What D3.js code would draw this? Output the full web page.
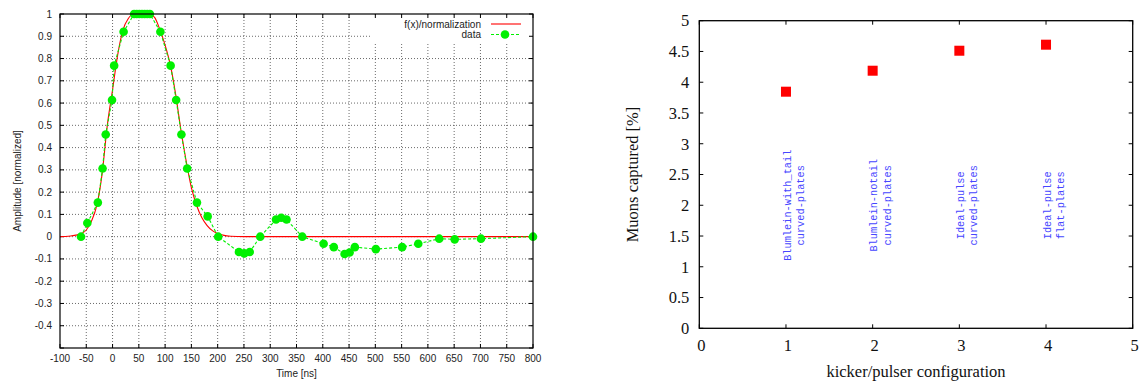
<!DOCTYPE html>
<html><head><meta charset="utf-8">
<script src="https://cdn.jsdelivr.net/npm/d3@7"></script>
<style>body{margin:0;background:#fff}svg{display:block}</style>
</head><body>
<svg id="c" width="1139" height="381"></svg>
<script>
// ---- Left panel data ----
const fxX = [-100,-90,-80,-70,-60,-50,-40,-30,-20,-10,0,10,20,30,40,50,60,70,80,90,100,110,120,130,140,150,160,170,180,190,200,210,225,250,800];
const fxY = [0,0.001,0.003,0.007,0.013,0.03,0.07,0.14,0.28,0.5,0.66,0.82,0.93,0.98,1.0,1.0,1.0,1.0,0.985,0.93,0.86,0.77,0.64,0.48,0.34,0.22,0.14,0.085,0.05,0.027,0.014,0.007,0.002,0,0];
const dataX = [-60,-48,-28,-19,-13,-1,3,21,41,46,51,56,61,66,71,91,110.5,121,131,142,160.6,181,201,240.5,250.6,261,281,311,321,331,361,401.6,421,441.5,451,461,501,551,581.7,621.6,651,701,800];
const dataY = [0,0.061,0.153,0.306,0.459,0.614,0.768,0.92,1,1,1,1,1,1,1,0.92,0.768,0.614,0.459,0.306,0.153,0.091,0,-0.069,-0.075,-0.069,0,0.077,0.085,0.077,0,-0.032,-0.047,-0.078,-0.071,-0.047,-0.056,-0.047,-0.032,-0.009,-0.012,-0.009,0];
const leftXTicks = d3.range(-100, 801, 50);
const leftYTicks = [-0.5,-0.4,-0.3,-0.2,-0.1,0,0.1,0.2,0.3,0.4,0.5,0.6,0.7,0.8,0.9,1];
const legendLabels = ["f(x)/normalization", "data"];

// ---- Right panel data ----
const configs = [1,2,3,4];
const muons = [3.846,4.187,4.512,4.61];
const configLabels = [["Blumlein-with_tail","curved-plates"],["Blumlein-notail","curved-plates"],["Ideal-pulse","curved-plates"],["Ideal-pulse","flat-plates"]];
const rightXTicks = [0,1,2,3,4,5];
const rightYTicks = [0,0.5,1,1.5,2,2.5,3,3.5,4,4.5,5];

const svg = d3.select("#c");
const fmt = v => (Math.abs(v) < 1e-9 ? "0" : String(+v.toFixed(2)));

// ================= LEFT =================
{
  const L = {x0:60, x1:533, y0:14, y1:348};
  const x = d3.scaleLinear().domain([-100,800]).range([L.x0,L.x1]);
  const y = d3.scaleLinear().domain([-0.5,1]).range([L.y1,L.y0]);
  const g = svg.append("g").attr("font-family","'Liberation Sans',Arial,sans-serif").attr("font-size","10px");
  // grid
  g.append("g").selectAll("line").data(leftXTicks.filter(t=>t>-100&&t<800)).join("line")
    .attr("x1",d=>x(d)).attr("x2",d=>x(d)).attr("y1",L.y0).attr("y2",L.y1)
    .attr("stroke","#444").attr("stroke-width",0.8).attr("stroke-dasharray","1,2");
  g.append("g").selectAll("line").data(leftYTicks.filter(t=>t>-0.5&&t<1)).join("line")
    .attr("x1",L.x0).attr("x2",L.x1).attr("y1",d=>y(d)).attr("y2",d=>y(d))
    .attr("stroke","#444").attr("stroke-width",0.8).attr("stroke-dasharray","1,2");
  // legend background
  g.append("rect").attr("x",372).attr("y",L.y0+1).attr("width",L.x1-372).attr("height",28).attr("fill","#fff");
  // ticks (inward, mirrored)
  const tl = 4;
  leftXTicks.forEach(t=>{
    g.append("line").attr("x1",x(t)).attr("x2",x(t)).attr("y1",L.y1).attr("y2",L.y1-tl).attr("stroke","#000");
    g.append("line").attr("x1",x(t)).attr("x2",x(t)).attr("y1",L.y0).attr("y2",L.y0+tl).attr("stroke","#000");
    g.append("text").attr("x",x(t)).attr("y",L.y1+10).attr("dy","0.35em").attr("text-anchor","middle").attr("fill","#222").text(fmt(t));
  });
  leftYTicks.forEach(t=>{
    g.append("line").attr("x1",L.x0).attr("x2",L.x0+tl).attr("y1",y(t)).attr("y2",y(t)).attr("stroke","#000");
    g.append("line").attr("x1",L.x1).attr("x2",L.x1-tl).attr("y1",y(t)).attr("y2",y(t)).attr("stroke","#000");
    if (t > -0.45) g.append("text").attr("x",L.x0-8).attr("y",y(t)).attr("dy","0.35em").attr("text-anchor","end").attr("fill","#222").text(fmt(t));
  });
  // curves
  const fx = fxX.map((v,i)=>[v,fxY[i]]);
  g.append("path").datum(fx).attr("fill","none").attr("stroke","#ff0000").attr("stroke-width",1.1)
    .attr("d", d3.line().x(d=>x(d[0])).y(d=>y(d[1])).curve(d3.curveMonotoneX));
  const dat = dataX.map((v,i)=>[v,dataY[i]]);
  g.append("path").datum(dat).attr("fill","none").attr("stroke","#00f000").attr("stroke-width",1.1).attr("stroke-dasharray","3,2")
    .attr("d", d3.line().x(d=>x(d[0])).y(d=>y(d[1])));
  g.append("g").selectAll("circle").data(dat).join("circle")
    .attr("cx",d=>x(d[0])).attr("cy",d=>y(d[1])).attr("r",4.3).attr("fill","#00f000");
  // frame
  g.append("rect").attr("x",L.x0).attr("y",L.y0).attr("width",L.x1-L.x0).attr("height",L.y1-L.y0)
    .attr("fill","none").attr("stroke","#000").attr("stroke-width",1.2);
  // legend
  g.append("text").attr("x",481).attr("y",24).attr("dy","0.35em").attr("text-anchor","end").attr("fill","#222").text(legendLabels[0]);
  g.append("line").attr("x1",491).attr("x2",521).attr("y1",24).attr("y2",24).attr("stroke","#ff0000").attr("stroke-width",1.1);
  g.append("text").attr("x",481).attr("y",34.5).attr("dy","0.35em").attr("text-anchor","end").attr("fill","#222").text(legendLabels[1]);
  g.append("line").attr("x1",491).attr("x2",521).attr("y1",34.5).attr("y2",34.5).attr("stroke","#00f000").attr("stroke-width",1.1).attr("stroke-dasharray","3,2");
  g.append("circle").attr("cx",505).attr("cy",34.5).attr("r",4.3).attr("fill","#00f000");
  // axis titles
  g.append("text").attr("x",(L.x0+L.x1)/2).attr("y",373).attr("dy","0.35em").attr("text-anchor","middle").attr("fill","#222").text("Time [ns]");
  g.append("text").attr("transform",`translate(17,${(L.y0+L.y1)/2}) rotate(-90)`).attr("dy","0.35em").attr("text-anchor","middle").attr("fill","#222").text("Amplitude [normalized]");
}

// ================= RIGHT =================
{
  const R = {x0:699.3, x1:1132.7, y0:20.7, y1:328.3};
  const x = d3.scaleLinear().domain([0,5]).range([R.x0,R.x1]);
  const y = d3.scaleLinear().domain([0,5]).range([R.y1,R.y0]);
  const g = svg.append("g").attr("font-family","'Liberation Serif','Times New Roman',serif").attr("font-size","16.5px");
  const tl = 4;
  rightXTicks.forEach(t=>{
    g.append("line").attr("x1",x(t)).attr("x2",x(t)).attr("y1",R.y1).attr("y2",R.y1-tl).attr("stroke","#000");
    g.append("line").attr("x1",x(t)).attr("x2",x(t)).attr("y1",R.y0).attr("y2",R.y0+tl).attr("stroke","#000");
    g.append("text").attr("x",x(t)+2).attr("y",345.7).attr("dy","0.35em").attr("text-anchor","middle").attr("fill","#111").text(fmt(t));
  });
  rightYTicks.forEach(t=>{
    g.append("line").attr("x1",R.x0).attr("x2",R.x0+tl).attr("y1",y(t)).attr("y2",y(t)).attr("stroke","#000");
    g.append("line").attr("x1",R.x1).attr("x2",R.x1-tl).attr("y1",y(t)).attr("y2",y(t)).attr("stroke","#000");
    g.append("text").attr("x",R.x0-10).attr("y",y(t)).attr("dy","0.35em").attr("text-anchor","end").attr("fill","#111").text(fmt(t));
  });
  g.append("rect").attr("x",R.x0).attr("y",R.y0).attr("width",R.x1-R.x0).attr("height",R.y1-R.y0)
    .attr("fill","none").attr("stroke","#000").attr("stroke-width",1.3);
  const s = 10;
  g.append("g").selectAll("rect").data(configs.map((c,i)=>[c,muons[i]])).join("rect")
    .attr("x",d=>x(d[0])-s/2).attr("y",d=>y(d[1])-s/2).attr("width",s).attr("height",s).attr("fill","#ff0000");
  // config labels
  configLabels.forEach((lines,i)=>{
    lines.forEach((ln,j)=>{
      g.append("text").attr("transform",`translate(${x(configs[i])+1+j*13.5},${y(2)}) rotate(-90)`)
        .attr("dy","0.35em").attr("text-anchor","middle")
        .attr("font-family","'Liberation Mono','Courier New',monospace").attr("font-size","10.3px")
        .attr("fill","#4646ff").text(ln);
    });
  });
  g.append("text").attr("x",(R.x0+R.x1)/2).attr("y",371.7).attr("dy","0.35em").attr("text-anchor","middle").attr("fill","#111").text("kicker/pulser configuration");
  g.append("text").attr("transform",`translate(632,${(R.y0+R.y1)/2}) rotate(-90)`).attr("dy","0.35em").attr("text-anchor","middle").attr("fill","#111").text("Muons captured [%]");
}
</script>
</body></html>
